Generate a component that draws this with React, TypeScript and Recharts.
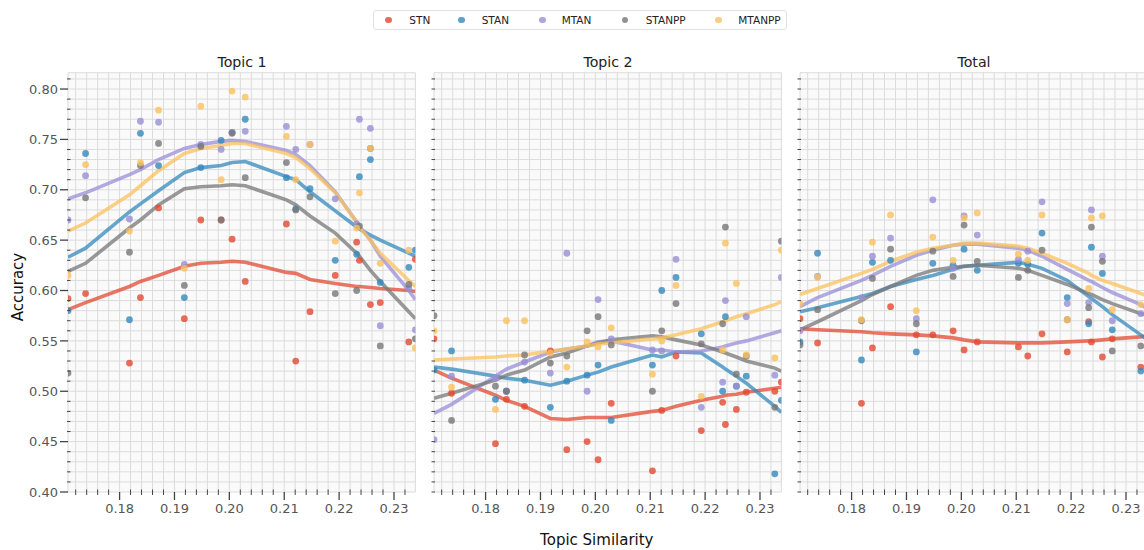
import React from 'react';
import { ComposedChart, Scatter, Line, XAxis, YAxis, CartesianGrid } from 'recharts';

const seriesNames = ['STN', 'STAN', 'MTAN', 'STANPP', 'MTANPP'];
const seriesColors = ['#E24A33', '#348ABD', '#988ED5', '#777777', '#FBC15E'];
const panelTitles = ['Topic 1', 'Topic 2', 'Total'];
const xTickLabels = ['0.18', '0.19', '0.20', '0.21', '0.22', '0.23'];
const yTickLabels = ['0.40', '0.45', '0.50', '0.55', '0.60', '0.65', '0.70', '0.75', '0.80'];

// Topic similarity of each run (x)
const similarity = [0.1706, 0.1738, 0.1818, 0.1838, 0.1871, 0.1918, 0.1948, 0.1985, 0.2005, 0.2029, 0.2104, 0.2121, 0.2147, 0.2193, 0.2232, 0.2237, 0.2257, 0.2275, 0.2327, 0.2339];

// Topic 1 – observed accuracies
const t1DotsSTN = [0.592, 0.597, 0.528, 0.593, 0.682, 0.572, 0.670, 0.670, 0.651, 0.609, 0.666, 0.530, 0.579, 0.615, 0.648, 0.630, 0.586, 0.588, 0.549, 0.631];
const t1DotsSTAN = [0.580, 0.736, 0.571, 0.756, 0.724, 0.593, 0.722, 0.749, 0.757, 0.770, 0.712, 0.681, 0.701, 0.630, 0.636, 0.713, 0.730, 0.608, 0.623, 0.640];
const t1DotsMTAN = [0.670, 0.714, 0.671, 0.768, 0.767, 0.626, 0.745, 0.740, 0.757, 0.758, 0.763, 0.740, 0.745, 0.691, 0.666, 0.770, 0.761, 0.565, 0.602, 0.561];
const t1DotsSTANPP = [0.518, 0.692, 0.638, 0.724, 0.746, 0.605, 0.743, 0.670, 0.756, 0.712, 0.727, 0.680, 0.693, 0.597, 0.600, 0.664, 0.741, 0.545, 0.606, 0.552];
const t1DotsMTANPP = [0.615, 0.725, 0.659, 0.727, 0.779, 0.622, 0.783, 0.710, 0.798, 0.792, 0.753, 0.710, 0.745, 0.649, 0.662, 0.697, 0.741, 0.627, 0.640, 0.543];
// Topic 1 – smoothed fits
const t1FitSTN = [0.581, 0.588, 0.604, 0.609, 0.615, 0.624, 0.627, 0.628, 0.629, 0.628, 0.618, 0.617, 0.611, 0.607, 0.604, 0.604, 0.603, 0.602, 0.600, 0.599];
const t1FitSTAN = [0.633, 0.642, 0.678, 0.686, 0.699, 0.717, 0.722, 0.724, 0.727, 0.728, 0.713, 0.710, 0.698, 0.679, 0.663, 0.661, 0.655, 0.650, 0.637, 0.634];
const t1FitMTAN = [0.691, 0.697, 0.715, 0.720, 0.730, 0.741, 0.745, 0.748, 0.749, 0.748, 0.739, 0.735, 0.724, 0.698, 0.668, 0.664, 0.650, 0.634, 0.600, 0.591];
const t1FitSTANPP = [0.619, 0.627, 0.662, 0.670, 0.685, 0.701, 0.703, 0.704, 0.705, 0.704, 0.690, 0.685, 0.674, 0.657, 0.637, 0.634, 0.620, 0.609, 0.579, 0.572];
const t1FitMTANPP = [0.659, 0.667, 0.695, 0.704, 0.719, 0.736, 0.741, 0.744, 0.746, 0.746, 0.736, 0.732, 0.721, 0.697, 0.668, 0.663, 0.650, 0.637, 0.610, 0.604];

// Topic 2 – observed accuracies
const t2DotsSTN = [0.552, 0.498, 0.448, 0.492, 0.485, 0.540, 0.442, 0.450, 0.432, 0.488, 0.421, 0.481, 0.535, 0.461, 0.489, 0.467, 0.482, 0.499, 0.500, 0.509];
const t2DotsSTAN = [0.521, 0.540, 0.492, 0.500, 0.511, 0.484, 0.510, 0.516, 0.526, 0.471, 0.526, 0.600, 0.613, 0.557, 0.500, 0.574, 0.505, 0.515, 0.418, 0.491];
const t2DotsMTAN = [0.452, 0.515, 0.513, 0.500, 0.529, 0.518, 0.637, 0.500, 0.591, 0.552, 0.541, 0.540, 0.631, 0.484, 0.509, 0.590, 0.505, 0.574, 0.516, 0.613];
const t2DotsSTANPP = [0.575, 0.471, 0.505, 0.500, 0.536, 0.528, 0.535, 0.560, 0.574, 0.546, 0.500, 0.560, 0.587, 0.547, 0.567, 0.663, 0.517, 0.535, 0.484, 0.649];
const t2DotsMTANPP = [0.560, 0.504, 0.482, 0.570, 0.570, 0.538, 0.524, 0.549, 0.544, 0.563, 0.517, 0.550, 0.605, 0.495, 0.541, 0.647, 0.607, 0.536, 0.533, 0.640];
// Topic 2 – smoothed fits
const t2FitSTN = [0.521, 0.513, 0.496, 0.491, 0.485, 0.473, 0.472, 0.474, 0.474, 0.474, 0.480, 0.481, 0.485, 0.491, 0.495, 0.496, 0.497, 0.499, 0.503, 0.504];
const t2FitSTAN = [0.524, 0.522, 0.515, 0.513, 0.511, 0.506, 0.510, 0.516, 0.519, 0.524, 0.536, 0.534, 0.539, 0.538, 0.524, 0.522, 0.515, 0.508, 0.485, 0.479];
const t2FitMTAN = [0.478, 0.487, 0.515, 0.522, 0.529, 0.539, 0.542, 0.545, 0.549, 0.550, 0.541, 0.541, 0.539, 0.540, 0.544, 0.545, 0.548, 0.550, 0.558, 0.560];
const t2FitSTANPP = [0.493, 0.498, 0.511, 0.516, 0.521, 0.534, 0.538, 0.545, 0.548, 0.551, 0.555, 0.554, 0.551, 0.546, 0.539, 0.538, 0.534, 0.530, 0.523, 0.520];
const t2FitMTANPP = [0.531, 0.532, 0.534, 0.535, 0.536, 0.540, 0.542, 0.545, 0.547, 0.548, 0.552, 0.553, 0.556, 0.562, 0.569, 0.570, 0.574, 0.577, 0.586, 0.589];

// Total – observed accuracies
const tDotsSTN = [0.572, 0.548, 0.488, 0.543, 0.584, 0.556, 0.556, 0.560, 0.541, 0.549, 0.544, 0.535, 0.557, 0.539, 0.569, 0.549, 0.534, 0.552, 0.524, 0.550];
const tDotsSTAN = [0.549, 0.637, 0.531, 0.628, 0.630, 0.539, 0.627, 0.625, 0.641, 0.620, 0.627, 0.626, 0.657, 0.593, 0.567, 0.643, 0.617, 0.561, 0.520, 0.522];
const tDotsMTAN = [0.560, 0.614, 0.593, 0.634, 0.652, 0.572, 0.690, 0.622, 0.674, 0.655, 0.631, 0.639, 0.688, 0.587, 0.588, 0.680, 0.634, 0.570, 0.577, 0.580];
const tDotsSTANPP = [0.546, 0.581, 0.570, 0.612, 0.641, 0.567, 0.639, 0.614, 0.665, 0.629, 0.613, 0.620, 0.640, 0.571, 0.583, 0.663, 0.629, 0.540, 0.545, 0.560];
const tDotsMTANPP = [0.587, 0.613, 0.571, 0.648, 0.675, 0.580, 0.653, 0.630, 0.672, 0.677, 0.636, 0.630, 0.675, 0.571, 0.602, 0.672, 0.674, 0.581, 0.586, 0.590];
// Total – smoothed fits
const tFitSTN = [0.562, 0.561, 0.559, 0.558, 0.557, 0.556, 0.555, 0.553, 0.551, 0.549, 0.548, 0.548, 0.548, 0.549, 0.550, 0.550, 0.551, 0.552, 0.554, 0.555];
const tFitSTAN = [0.579, 0.583, 0.594, 0.597, 0.604, 0.611, 0.615, 0.621, 0.624, 0.625, 0.628, 0.626, 0.622, 0.610, 0.594, 0.592, 0.584, 0.576, 0.556, 0.551];
const tFitMTAN = [0.584, 0.593, 0.610, 0.615, 0.624, 0.635, 0.640, 0.645, 0.646, 0.646, 0.642, 0.640, 0.634, 0.621, 0.610, 0.609, 0.603, 0.598, 0.586, 0.582];
const tFitSTANPP = [0.561, 0.569, 0.590, 0.596, 0.604, 0.615, 0.620, 0.623, 0.624, 0.625, 0.622, 0.620, 0.615, 0.606, 0.597, 0.596, 0.591, 0.587, 0.577, 0.576];
const tFitMTANPP = [0.596, 0.602, 0.617, 0.621, 0.629, 0.638, 0.642, 0.645, 0.647, 0.647, 0.644, 0.642, 0.637, 0.627, 0.617, 0.615, 0.610, 0.607, 0.597, 0.595];

const panelDots = [
  [t1DotsSTN, t1DotsSTAN, t1DotsMTAN, t1DotsSTANPP, t1DotsMTANPP],
  [t2DotsSTN, t2DotsSTAN, t2DotsMTAN, t2DotsSTANPP, t2DotsMTANPP],
  [tDotsSTN, tDotsSTAN, tDotsMTAN, tDotsSTANPP, tDotsMTANPP],
];
const panelFits = [
  [t1FitSTN, t1FitSTAN, t1FitMTAN, t1FitSTANPP, t1FitMTANPP],
  [t2FitSTN, t2FitSTAN, t2FitMTAN, t2FitSTANPP, t2FitMTANPP],
  [tFitSTN, tFitSTAN, tFitMTAN, tFitSTANPP, tFitMTANPP],
];

const X_DOMAIN: [number, number] = [0.1706, 0.2339];
const Y_DOMAIN: [number, number] = [0.4, 0.8162];
const xMinorTicks = Array.from({ length: 31 }, (_, i) => Math.round((0.172 + 0.002 * i) * 1000) / 1000);
const yMinorTicks = Array.from({ length: 42 }, (_, i) => Math.round((0.4 + 0.01 * i) * 100) / 100);

const FONT = '"DejaVu Sans", sans-serif';
const PLOT_W = 347.4;
const Y_AXIS_W = 60;
const PLOT_TOP = 72.7;
const PLOT_BOTTOM = 492;
const CHART_H = 550;
const X_AXIS_H = 30;
const RIGHT_M = 8;
const panelLefts = [68.3, 434.3, 800.3];

const zip = (ys: number[]) => similarity.map((x, i) => ({ x, y: ys[i] })).filter((d) => d.y != null);

const XTick = (props: any) => {
  const { x, y, payload } = props;
  const v = payload.value;
  const major = Math.round(v * 1000) % 10 === 0;
  const label = xTickLabels.find((l) => Math.abs(parseFloat(l) - v) < 1e-6);
  return (
    <g>
      <line x1={x} x2={x} y1={major ? y : y - 2.5} y2={major ? y + 8 : y + 3} stroke="#444" strokeWidth={major ? 1.3 : 1} />
      {major && label && (
        <text x={x} y={y + 20.7} textAnchor="middle" fontSize={13} fill="#555" fontFamily={FONT}>
          {label}
        </text>
      )}
    </g>
  );
};

const makeYTick = (showLabels: boolean) => (props: any) => {
  const { x, y, payload } = props;
  const v = payload.value;
  const major = Math.round(v * 100) % 5 === 0;
  const label = yTickLabels.find((l) => Math.abs(parseFloat(l) - v) < 1e-6);
  if (!showLabels) {
    return (
      <g>
        <line x1={x - 2.5} x2={x + 1} y1={y} y2={y} stroke="#444" strokeWidth={1} />
      </g>
    );
  }
  return (
    <g>
      <line x1={major ? x - 8 : x - 1} x2={major ? x : x + 2.5} y1={y} y2={y} stroke="#444" strokeWidth={major ? 1.3 : 1} />
      {major && label && (
        <text x={x - 10} y={y + 4.7} textAnchor="end" fontSize={13} fill="#555" fontFamily={FONT}>
          {label}
        </text>
      )}
    </g>
  );
};

function Panel({ idx }: { idx: number }) {
  const dots = panelDots[idx];
  const fits = panelFits[idx];
  const items: React.ReactNode[] = [];
  seriesNames.forEach((name, i) => {
    const color = seriesColors[i];
    items.push(
      <Scatter
        key={`s-${name}`}
        name={name}
        data={zip(dots[i])}
        isAnimationActive={false}
        shape={(p: any) => <circle cx={p.cx} cy={p.cy} r={3.4} fill={color} fillOpacity={0.8} />}
      />
    );
    items.push(
      <Line
        key={`l-${name}`}
        name={name}
        data={zip(fits[i])}
        dataKey="y"
        type="linear"
        stroke={color}
        strokeOpacity={0.75}
        strokeWidth={3.6}
        dot={false}
        activeDot={false}
        isAnimationActive={false}
      />
    );
  });
  return (
    <div style={{ position: 'absolute', left: panelLefts[idx] - Y_AXIS_W, top: 0 }}>
      <ComposedChart
        width={Y_AXIS_W + PLOT_W + RIGHT_M}
        height={CHART_H}
        margin={{ top: PLOT_TOP, right: RIGHT_M, bottom: CHART_H - PLOT_BOTTOM - X_AXIS_H, left: 0 }}
      >
        <CartesianGrid stroke="#dcdcdc" strokeWidth={1} fill="#fafafa" />
        <XAxis
          type="number"
          dataKey="x"
          domain={X_DOMAIN}
          allowDataOverflow
          ticks={xMinorTicks}
          interval={0}
          tick={XTick}
          tickLine={false}
          axisLine={false}
          tickSize={0}
          tickMargin={0}
          height={X_AXIS_H}
        />
        <YAxis
          type="number"
          dataKey="y"
          domain={Y_DOMAIN}
          allowDataOverflow
          ticks={yMinorTicks}
          interval={0}
          tick={makeYTick(idx === 0)}
          tickLine={false}
          axisLine={false}
          tickSize={0}
          tickMargin={0}
          width={Y_AXIS_W}
        />
        {items}
      </ComposedChart>
    </div>
  );
}

const legendMarkerX = [388.3, 461.7, 542.3, 625, 718.3];
const legendTextX = [409.3, 481.7, 561.7, 645.7, 738.3];

export default function App() {
  return (
    <div
      style={{
        position: 'absolute',
        left: 0,
        top: 0,
        width: 1144,
        height: 550,
        overflow: 'hidden',
        background: '#ffffff',
        fontFamily: FONT,
      }}
    >
      {[0, 1, 2].map((i) => (
        <Panel key={i} idx={i} />
      ))}
      {panelTitles.map((t, i) => (
        <div
          key={t}
          style={{
            position: 'absolute',
            left: panelLefts[i] + PLOT_W / 2,
            top: 62.1,
            transform: 'translate(-50%, -50%)',
            fontSize: 14.2,
            lineHeight: '14.2px',
            color: '#222',
            whiteSpace: 'nowrap',
          }}
        >
          {t}
        </div>
      ))}
      <div
        style={{
          position: 'absolute',
          left: 18.1,
          top: 287,
          transform: 'translate(-50%, -50%) rotate(-90deg)',
          fontSize: 15,
          lineHeight: '15px',
          color: '#111',
          whiteSpace: 'nowrap',
        }}
      >
        Accuracy
      </div>
      <div
        style={{
          position: 'absolute',
          left: 596.8,
          top: 539.8,
          transform: 'translate(-50%, -50%)',
          fontSize: 15,
          lineHeight: '15px',
          color: '#111',
          whiteSpace: 'nowrap',
        }}
      >
        Topic Similarity
      </div>
      <div
        style={{
          position: 'absolute',
          left: 372.7,
          top: 10,
          width: 414,
          height: 20,
          border: '1px solid #e2e2e2',
          borderRadius: 3,
          background: '#ffffff',
          boxSizing: 'border-box',
        }}
      />
      {seriesNames.map((n, i) => (
        <React.Fragment key={n}>
          <div
            style={{
              position: 'absolute',
              left: legendMarkerX[i] - 3.4,
              top: 20 - 3.4,
              width: 6.8,
              height: 6.8,
              borderRadius: '50%',
              background: seriesColors[i],
              opacity: 0.8,
            }}
          />
          <div
            style={{
              position: 'absolute',
              left: legendTextX[i],
              top: 20,
              transform: 'translateY(-50%)',
              fontSize: 10.5,
              lineHeight: '10.5px',
              color: '#222',
              whiteSpace: 'nowrap',
            }}
          >
            {n}
          </div>
        </React.Fragment>
      ))}
    </div>
  );
}
